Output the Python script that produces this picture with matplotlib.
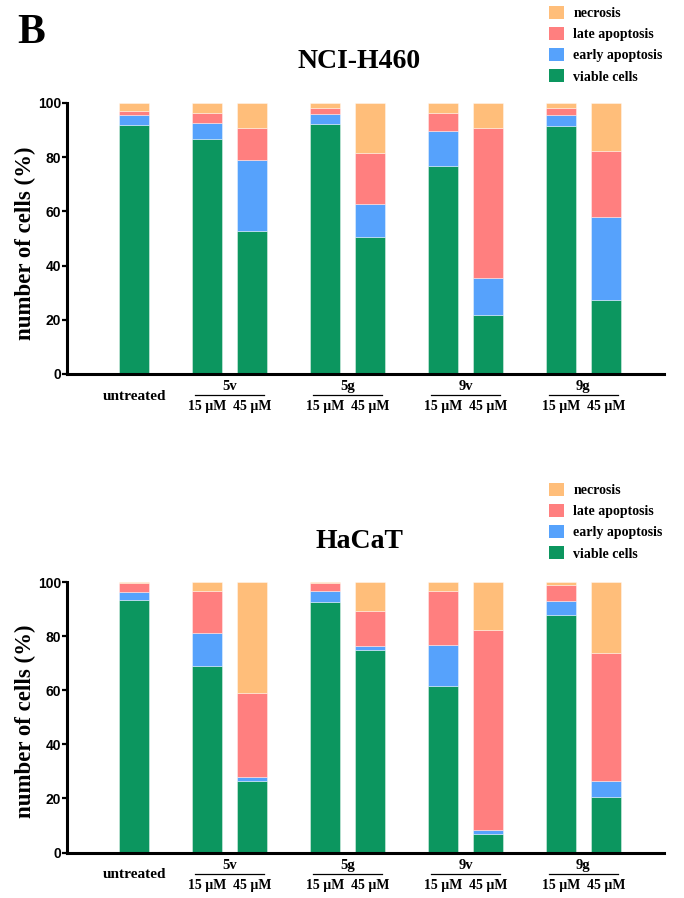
import matplotlib
matplotlib.use("Agg")
import matplotlib.pyplot as plt
from matplotlib.lines import Line2D
from matplotlib.patches import Patch
import numpy as np

# ---------------- data ----------------
groups = ["5v", "5g", "9v", "9g"]
doses = ["15 µM", "45 µM"]
bar_labels = ["untreated", "5v 15", "5v 45", "5g 15", "5g 45", "9v 15", "9v 45", "9g 15", "9g 45"]
series_names = ["viable cells", "early apoptosis", "late apoptosis", "necrosis"]

# NCI-H460 (percent per segment)
h460_viable = [92.0, 86.7, 52.7, 92.1, 50.6, 76.8, 21.9, 91.6, 27.4]
h460_early = [3.5, 5.9, 26.3, 3.7, 12.2, 12.7, 13.5, 4.1, 30.6]
h460_late = [1.7, 3.8, 11.6, 2.2, 18.6, 6.9, 55.3, 2.6, 24.2]
h460_necrosis = [2.8, 3.6, 9.4, 2.0, 18.6, 3.6, 9.3, 1.7, 17.8]

# HaCaT (percent per segment)
hacat_viable = [93.4, 69.0, 26.4, 92.7, 74.8, 61.7, 7.0, 87.7, 20.6]
hacat_early = [3.0, 12.3, 1.5, 3.8, 1.6, 14.9, 1.5, 5.3, 5.8]
hacat_late = [3.3, 15.5, 31.2, 3.0, 13.0, 20.1, 73.8, 5.8, 47.4]
hacat_necrosis = [0.3, 3.2, 40.9, 0.5, 10.6, 3.3, 17.7, 1.2, 26.2]

yticks = [0, 20, 40, 60, 80, 100]
colors = ["#0C965F", "#56A2FC", "#FF7F7F", "#FFBE7A"]

SERIF = "Liberation Serif"
SANS = "Liberation Sans"

# positions: untreated at 0, then pairs
positions = [0.0]
for g in range(len(groups)):
    start = 1.62 + 2.62 * g
    positions += [start, start + 1.0]
positions = np.array(positions)
width = 0.66

fig = plt.figure(figsize=(6.84, 8.98), dpi=100)

def draw(ax, data, title, legend_top_px):
    bottom = np.zeros(len(positions))
    handles = []
    for vals, col, name in zip(data, colors, series_names):
        vals = np.array(vals)
        ax.bar(positions, vals, width, bottom=bottom, color=col,
               edgecolor=(1, 1, 1, 0.55), linewidth=0.5, label=name)
        bottom += vals
        handles.append(Patch(facecolor=col, edgecolor="none", label=name))
    ax.set_ylim(0, 100)
    ax.set_xlim(-1.49, 11.77)
    ax.set_yticks(yticks)
    ax.set_yticklabels([str(t) for t in yticks], fontfamily=SANS,
                       fontweight="bold", fontsize=10)
    ax.spines["top"].set_visible(False)
    ax.spines["right"].set_visible(False)
    ax.spines["left"].set_linewidth(2.2)
    ax.spines["bottom"].set_linewidth(2.2)
    ax.tick_params(axis="y", direction="out", length=3.6, width=1.6, pad=0.8)
    ax.tick_params(axis="x", length=0, labelbottom=False)
    ax.set_xticks([])

    # axis height in px for offsets
    hpx = ax.get_position().height * fig.get_figheight() * fig.dpi
    tr = ax.get_xaxis_transform()
    ax.text(positions[0], -22.5 / hpx, "untreated", transform=tr, ha="center",
            va="center", fontfamily=SERIF, fontweight="bold", fontsize=11)
    for g, name in enumerate(groups):
        p1, p2 = positions[1 + 2 * g], positions[2 + 2 * g]
        ax.text((p1 + p2) / 2, -13 / hpx, name, transform=tr, ha="center",
                va="center", fontfamily=SERIF, fontweight="bold", fontsize=10.5)
        ax.add_line(Line2D([p1 - 0.26, p2 + 0.26], [-21.5 / hpx, -21.5 / hpx],
                           transform=tr, color="black", lw=0.9, clip_on=False))
        for p, d in zip((p1, p2), doses):
            ax.text(p, -33 / hpx, d, transform=tr, ha="center", va="center",
                    fontfamily=SERIF, fontweight="bold", fontsize=10)

    ax.text(0.49, 1 + 41 / hpx, title, transform=ax.transAxes, ha="center",
            va="center", fontfamily=SERIF, fontweight="bold", fontsize=20)

    fig.legend(handles=handles[::-1], loc="upper left",
               bbox_to_anchor=(549 / 684, 1 - legend_top_px / 898),
               frameon=False, borderpad=0, borderaxespad=0,
               handlelength=1.05, handleheight=1.05, handletextpad=0.7,
               labelspacing=0.5,
               prop={"family": SERIF, "weight": "bold", "size": 10})

    ax_pos = ax.get_position()
    yc = ax_pos.y0 + ax_pos.height / 2 - 4.5 / 898
    fig.text(25 / 684, yc, "number of cells (%)", rotation=90, ha="center",
             va="center", fontfamily=SERIF, fontweight="bold", fontsize=16.5)

ax1 = fig.add_axes([67 / 684, 1 - 374 / 898, 597 / 684, 271 / 898])
ax2 = fig.add_axes([67 / 684, 1 - 852.5 / 898, 597 / 684, 270.5 / 898])

draw(ax1, [h460_viable, h460_early, h460_late, h460_necrosis], "NCI-H460", 6)
draw(ax2, [hacat_viable, hacat_early, hacat_late, hacat_necrosis], "HaCaT", 483)

fig.text(17 / 684, 1 - 43 / 898, "B", ha="left", va="baseline",
         fontfamily=SERIF, fontweight="bold", fontsize=30)

fig.savefig("out.png", dpi=100)
